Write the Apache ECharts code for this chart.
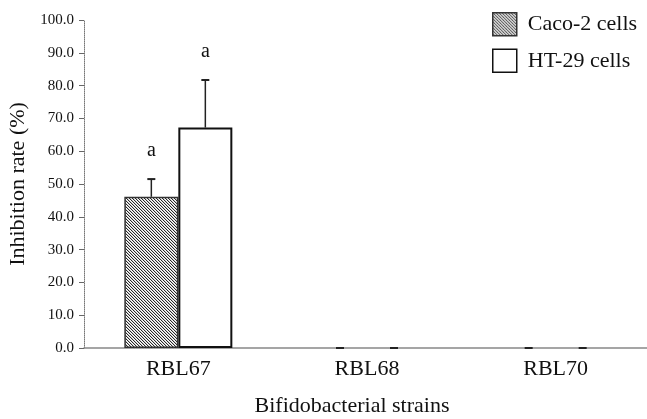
<!DOCTYPE html>
<html lang="en">

<head>
    <meta charset="UTF-8">
    <title>Inhibition rate</title>
    <script src="https://cdn.jsdelivr.net/npm/echarts@6/dist/echarts.min.js"></script>
    <style>
        body { margin: 0; background: #fff; }
    </style>
</head>

<body>
    <div id="container" style="width: 647px;height: 419px"></div>

    <script>
        // data
        var strains = ['RBL67', 'RBL68', 'RBL70'];
        var cacoValues = [46.1, 0, 0];
        var cacoErrors = [5.4, 0, 0];
        var cacoMarks = ['a', '', ''];
        var htValues = [67.2, 0, 0];
        var htErrors = [14.5, 0, 0];
        var htMarks = ['a', '', ''];
        var yTicks = [0, 10, 20, 30, 40, 50, 60, 70, 80, 90, 100];

        var serif = "'Liberation Serif', 'Times New Roman', serif";

        // hatch pattern "\\\\" for the Caco-2 bars
        function makeHatch() {
            var c = document.createElement('canvas');
            c.width = 6;
            c.height = 6;
            var ctx = c.getContext('2d');
            var img = ctx.createImageData(6, 6);
            for (var y = 0; y < 6; y++) {
                for (var x = 0; x < 6; x++) {
                    var k = ((x - y) % 3 + 3) % 3;
                    var v = k === 0 ? 40 : (k === 1 ? 205 : 255);
                    var i = (y * 6 + x) * 4;
                    img.data[i] = v; img.data[i + 1] = v; img.data[i + 2] = v; img.data[i + 3] = 255;
                }
            }
            ctx.putImageData(img, 0, 0);
            return c;
        }
        var hatch = { image: makeHatch(), repeat: 'repeat' };

        function barData(values) {
            // zero bars have no outline in the figure
            return values.map(function (v) {
                return v === 0 ? { value: 0, itemStyle: { borderWidth: 0 } } : v;
            });
        }

        function errorData(values, errors, marks) {
            return values.map(function (v, i) { return [i, v, errors[i], marks[i]]; });
        }

        // error bar + letter drawn above the bar, shift = offset from category centre
        function errorRenderer(shift) {
            return function (params, api) {
                var base = api.coord([api.value(0), api.value(1)]);
                var top = api.coord([api.value(0), api.value(1) + api.value(2)]);
                var x = base[0] + shift;
                var style = { stroke: '#222', lineWidth: 1.5 };
                var children = [
                    { type: 'line', shape: { x1: x, y1: base[1], x2: x, y2: top[1] }, style: style },
                    { type: 'line', shape: { x1: x - 4, y1: top[1], x2: x + 4, y2: top[1] }, style: { stroke: '#222', lineWidth: 2 } }
                ];
                var mark = api.value(3);
                if (mark) {
                    children.push({
                        type: 'text',
                        style: {
                            x: x, y: top[1] - 28, text: mark, align: 'center', verticalAlign: 'middle',
                            font: '20px ' + serif, fill: '#111'
                        }
                    });
                }
                return { type: 'group', children: children };
            };
        }

        var myChart = echarts.init(document.getElementById('container'));

        myChart.setOption({
            backgroundColor: '#fff',
            animation: false,
            grid: { left: 84, top: 20, width: 566, height: 328, outerBoundsMode: 'none', containLabel: false },
            legend: {
                orient: 'vertical',
                left: 487,
                top: 7,
                itemWidth: 24,
                itemHeight: 23,
                itemGap: 12,
                icon: 'rect',
                textStyle: { fontFamily: serif, fontSize: 22, color: '#111', padding: [0, 0, 0, 6] },
                data: [
                    { name: 'Caco-2 cells', itemStyle: { color: hatch, borderColor: '#333', borderWidth: 1.5 } },
                    { name: 'HT-29 cells', itemStyle: { color: '#fff', borderColor: '#111', borderWidth: 1.5 } }
                ]
            },
            xAxis: {
                type: 'category',
                data: strains,
                name: 'Bifidobacterial strains',
                nameLocation: 'middle',
                nameGap: 47,
                nameTextStyle: { fontFamily: serif, fontSize: 22, color: '#111', padding: [0, 30, 0, 0] },
                axisLine: { lineStyle: { color: '#888', width: 1.5 } },
                axisTick: { show: false },
                axisLabel: { fontFamily: serif, fontSize: 22, color: '#111', margin: 10 }
            },
            yAxis: {
                type: 'value',
                min: yTicks[0],
                max: yTicks[yTicks.length - 1],
                interval: 10,
                name: 'Inhibition rate (%)',
                nameLocation: 'middle',
                nameGap: 53,
                nameTextStyle: { fontFamily: serif, fontSize: 22, color: '#111' },
                axisLine: { show: true, lineStyle: { color: '#777', width: 1, type: 'dotted' } },
                axisTick: { show: true, length: 5, lineStyle: { color: '#666' } },
                splitLine: { show: false },
                axisLabel: {
                    fontFamily: serif, fontSize: 15, color: '#111', margin: 10,
                    formatter: function (v) { return v.toFixed(1); }
                }
            },
            series: [
                {
                    name: 'Caco-2 cells',
                    type: 'bar',
                    barWidth: 54,
                    barGap: 0,
                    data: barData(cacoValues),
                    itemStyle: { color: hatch, borderColor: '#333', borderWidth: 1.5 }
                },
                {
                    name: 'HT-29 cells',
                    type: 'bar',
                    barWidth: 54,
                    barGap: 0,
                    data: barData(htValues),
                    itemStyle: { color: '#fff', borderColor: '#111', borderWidth: 2 }
                },
                {
                    type: 'custom',
                    renderItem: errorRenderer(-27),
                    data: errorData(cacoValues, cacoErrors, cacoMarks),
                    z: 5
                },
                {
                    type: 'custom',
                    renderItem: errorRenderer(27),
                    data: errorData(htValues, htErrors, htMarks),
                    z: 5
                }
            ]
        });
    </script>
</body>

</html>
